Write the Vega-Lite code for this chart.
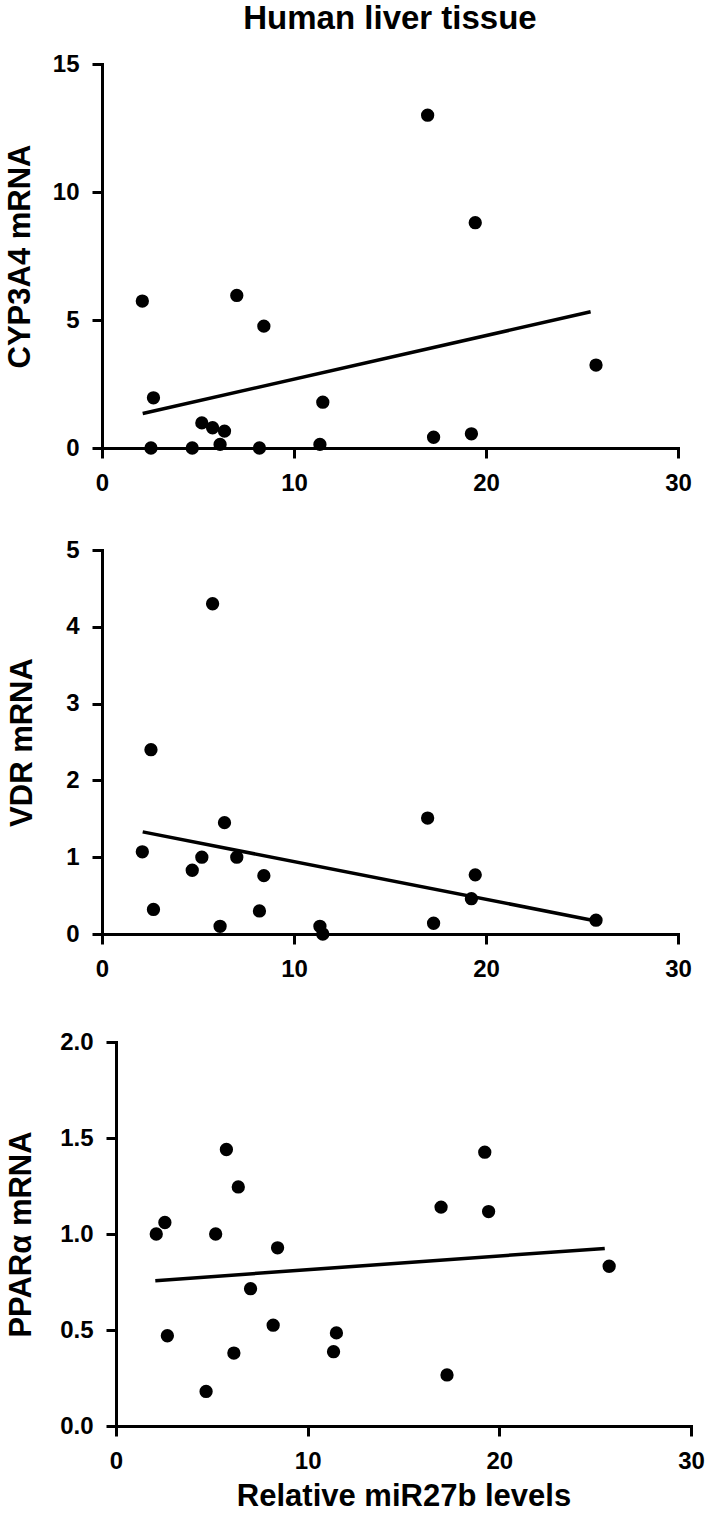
{
  "$schema": "https://vega.github.io/schema/vega-lite/v6.json",
  "background": "white",
  "padding": {"left": 4, "top": 2, "right": 5, "bottom": 5},
  "config": {
    "font": "Liberation Sans",
    "view": {"stroke": null},
    "axis": {
      "grid": false,
      "domainColor": "black",
      "domainWidth": 3,
      "domainCap": "square",
      "tickColor": "black",
      "tickWidth": 3,
      "tickSize": 10,
      "labelFont": "Liberation Sans",
      "labelFontWeight": "bold",
      "labelFontSize": 24,
      "labelColor": "black",
      "labelPadding": 13,
      "labelFlush": false,
      "labelOverlap": false,
      "titleFont": "Liberation Sans",
      "titleFontWeight": "bold",
      "titleFontSize": 31,
      "titleColor": "black"
    }
  },
  "datasets": {
    "pts": [
      {"x": 2.1, "cyp": 5.74, "vdr": 1.07, "ppar": 1.0},
      {"x": 2.55, "cyp": 0.0, "vdr": 2.4, "ppar": 1.06},
      {"x": 2.68, "cyp": 1.96, "vdr": 0.32, "ppar": 0.47},
      {"x": 4.7, "cyp": 0.0, "vdr": 0.83, "ppar": 0.18},
      {"x": 5.2, "cyp": 0.98, "vdr": 1.0, "ppar": 1.0},
      {"x": 5.76, "cyp": 0.79, "vdr": 4.3, "ppar": 1.44},
      {"x": 6.15, "cyp": 0.14, "vdr": 0.1, "ppar": 0.38},
      {"x": 6.38, "cyp": 0.66, "vdr": 1.45, "ppar": 1.245},
      {"x": 7.02, "cyp": 5.96, "vdr": 1.0, "ppar": 0.715},
      {"x": 8.2, "cyp": 0.0, "vdr": 0.3, "ppar": 0.525},
      {"x": 8.43, "cyp": 4.76, "vdr": 0.76, "ppar": 0.928},
      {"x": 11.35, "cyp": 0.14, "vdr": 0.1, "ppar": 0.387},
      {"x": 11.5, "cyp": 1.79, "vdr": 0.0, "ppar": 0.485},
      {"x": 16.96, "cyp": 13.0, "vdr": 1.51, "ppar": 1.14},
      {"x": 17.27, "cyp": 0.42, "vdr": 0.14, "ppar": 0.266},
      {"x": 19.24, "cyp": 0.555, "vdr": 0.46, "ppar": 1.426},
      {"x": 19.44, "cyp": 8.8, "vdr": 0.77, "ppar": 1.117},
      {"x": 25.73, "cyp": 3.24, "vdr": 0.18, "ppar": 0.832}
    ],
    "fit": [
      {"panel": "cyp", "x": 2.12, "y": 1.35},
      {"panel": "cyp", "x": 25.45, "y": 5.32},
      {"panel": "vdr", "x": 2.12, "y": 1.33},
      {"panel": "vdr", "x": 25.73, "y": 0.17},
      {"panel": "ppar", "x": 2.05, "y": 0.757},
      {"panel": "ppar", "x": 25.5, "y": 0.925}
    ]
  },
  "columns": 1,
  "spacing": 43,
  "concat": [
    {
      "width": 576,
      "height": 384,
      "title": {"text": "Human liver tissue", "fontSize": 33, "font": "Liberation Sans", "fontWeight": "bold", "color": "black", "anchor": "middle", "frame": "group", "offset": 16.5},
      "layer": [
        {
          "data": {"name": "pts"},
          "mark": {"type": "point", "shape": "circle", "filled": true, "size": 177, "color": "black", "opacity": 1},
          "encoding": {
            "x": {"field": "x", "type": "quantitative", "scale": {"domain": [0, 30], "nice": false}, "axis": {"values": [0, 10, 20, 30], "format": "d", "title": null}},
            "y": {"field": "cyp", "type": "quantitative", "scale": {"domain": [0, 15], "nice": false}, "axis": {"values": [0, 5, 10, 15], "format": "d", "title": "CYP3A4 mRNA", "titlePadding": 15.5}}
          }
        },
        {
          "data": {"name": "fit"},
          "transform": [{"filter": "datum.panel === 'cyp'"}],
          "mark": {"type": "line", "color": "black", "strokeWidth": 3.5},
          "encoding": {
            "x": {"field": "x", "type": "quantitative"},
            "y": {"field": "y", "type": "quantitative"}
          }
        }
      ]
    },
    {
      "width": 576,
      "height": 384,
      "layer": [
        {
          "data": {"name": "pts"},
          "mark": {"type": "point", "shape": "circle", "filled": true, "size": 177, "color": "black", "opacity": 1},
          "encoding": {
            "x": {"field": "x", "type": "quantitative", "scale": {"domain": [0, 30], "nice": false}, "axis": {"values": [0, 10, 20, 30], "format": "d", "title": null}},
            "y": {"field": "vdr", "type": "quantitative", "scale": {"domain": [0, 5], "nice": false}, "axis": {"values": [0, 1, 2, 3, 4, 5], "format": "d", "title": "VDR mRNA", "titlePadding": 27}}
          }
        },
        {
          "data": {"name": "fit"},
          "transform": [{"filter": "datum.panel === 'vdr'"}],
          "mark": {"type": "line", "color": "black", "strokeWidth": 3.5},
          "encoding": {
            "x": {"field": "x", "type": "quantitative"},
            "y": {"field": "y", "type": "quantitative"}
          }
        }
      ]
    },
    {
      "width": 589,
      "height": 384,
      "title": {"text": " ", "fontSize": 6, "offset": 0},
      "layer": [
        {
          "data": {"name": "pts"},
          "mark": {"type": "point", "shape": "circle", "filled": true, "size": 177, "color": "black", "opacity": 1},
          "encoding": {
            "x": {"field": "x", "type": "quantitative", "scale": {"domain": [0, 30], "nice": false, "range": [14, 589]}, "axis": {"values": [0, 10, 20, 30], "format": "d", "title": "Relative miR27b levels", "titlePadding": 8}},
            "y": {"field": "ppar", "type": "quantitative", "scale": {"domain": [0, 2], "nice": false}, "axis": {"values": [0, 0.5, 1, 1.5, 2], "format": ".1f", "title": "PPARα mRNA", "titlePadding": 22, "offset": -14}}
          }
        },
        {
          "data": {"name": "fit"},
          "transform": [{"filter": "datum.panel === 'ppar'"}],
          "mark": {"type": "line", "color": "black", "strokeWidth": 3.5},
          "encoding": {
            "x": {"field": "x", "type": "quantitative"},
            "y": {"field": "y", "type": "quantitative"}
          }
        }
      ]
    }
  ]
}
